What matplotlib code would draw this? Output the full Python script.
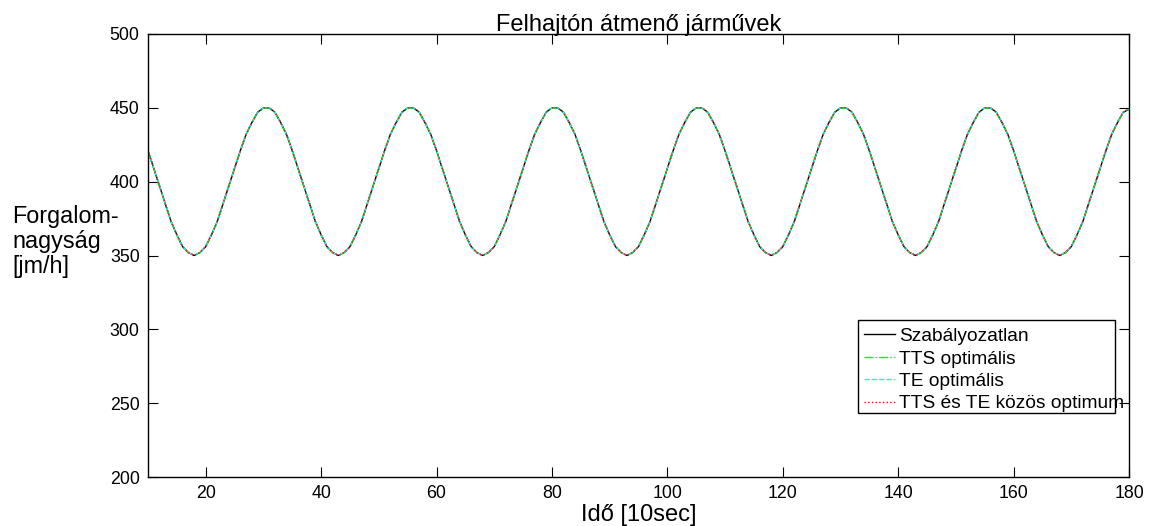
import numpy as np
import matplotlib.pyplot as plt
from matplotlib.patches import Rectangle

plt.rcParams['font.family'] = ['Liberation Sans', 'DejaVu Sans']

# time axis, 10sec steps
ido = list(range(10, 181))

# traffic volume [jm/h]
szabalyozatlan = [
    421, 409, 397, 385, 373, 364, 356, 352,
    350, 352, 356, 364, 373, 385, 397, 409, 421, 432, 440, 447, 450, 450, 447, 440, 432, 421, 409, 397, 385, 373, 364, 356, 352,
    350, 352, 356, 364, 373, 385, 397, 409, 421, 432, 440, 447, 450, 450, 447, 440, 432, 421, 409, 397, 385, 373, 364, 356, 352,
    350, 352, 356, 364, 373, 385, 397, 409, 421, 432, 440, 447, 450, 450, 447, 440, 432, 421, 409, 397, 385, 373, 364, 356, 352,
    350, 352, 356, 364, 373, 385, 397, 409, 421, 432, 440, 447, 450, 450, 447, 440, 432, 421, 409, 397, 385, 373, 364, 356, 352,
    350, 352, 356, 364, 373, 385, 397, 409, 421, 432, 440, 447, 450, 450, 447, 440, 432, 421, 409, 397, 385, 373, 364, 356, 352,
    350, 352, 356, 364, 373, 385, 397, 409, 421, 432, 440, 447, 450, 450, 447, 440, 432, 421, 409, 397, 385, 373, 364, 356, 352,
    350, 352, 356, 364, 373, 385, 397, 409, 421, 432, 440, 447, 449,
]
tts_optimalis = list(szabalyozatlan)
te_optimalis = list(szabalyozatlan)
kozos_optimum = list(szabalyozatlan)

labels = ['Szabályozatlan', 'TTS optimális', 'TE optimális', 'TTS és TE közös optimum']
ylabel_lines = ['Forgalom-', 'nagyság', '[jm/h]']

W, H = 1149, 526
fig = plt.figure(figsize=(11.49, 5.26), dpi=100)
ax = fig.add_axes([148/W, 1 - 477/H, 981/W, 443/H])

ax.plot(ido, szabalyozatlan, color='black', lw=1.0, ls='-', label=labels[0])
ax.plot(ido, tts_optimalis, color='#00ff00', lw=1.0, ls='-.', label=labels[1])
ax.plot(ido, te_optimalis, color='#00ffff', lw=1.0, ls='--', label=labels[2])
ax.plot(ido, kozos_optimum, color='red', lw=1.0, ls=':', label=labels[3])

ax.set_xlim(10, 180)
ax.set_ylim(200, 500)
ax.set_xticks(range(20, 181, 20))
ax.set_yticks(range(200, 501, 50))
ax.tick_params(direction='in', length=7, width=0.8, top=True, right=True,
               labelsize=12.8, pad=6)
for s in ax.spines.values():
    s.set_linewidth(1.0)

ax.set_title('Felhajtón átmenő járművek', fontsize=17, pad=2)
ax.set_xlabel('Idő [10sec]', fontsize=17)
ax.xaxis.set_label_coords(0.5, -0.062)

# horizontal y label, one text per line (baselines like the original)
for i, line in enumerate(ylabel_lines):
    fig.text(12/W, 1 - (223 + 25*i)/H, line, fontsize=16.8,
             ha='left', va='baseline')

# MATLAB style legend: the box is narrower than the last label
ax.add_patch(Rectangle((858/W, 1 - 413/H), 257/W, 93/H, transform=fig.transFigure,
                       facecolor='white', edgecolor='black', lw=1.0, zorder=4.9))
leg = ax.legend(loc='upper left', bbox_to_anchor=(858/W, 1 - 322/H),
                bbox_transform=fig.transFigure, fontsize=13.8, frameon=False,
                handlelength=1.65, handletextpad=0.2, labelspacing=0.26,
                borderpad=0.3, borderaxespad=0)

fig.savefig('out.png', dpi=100)
